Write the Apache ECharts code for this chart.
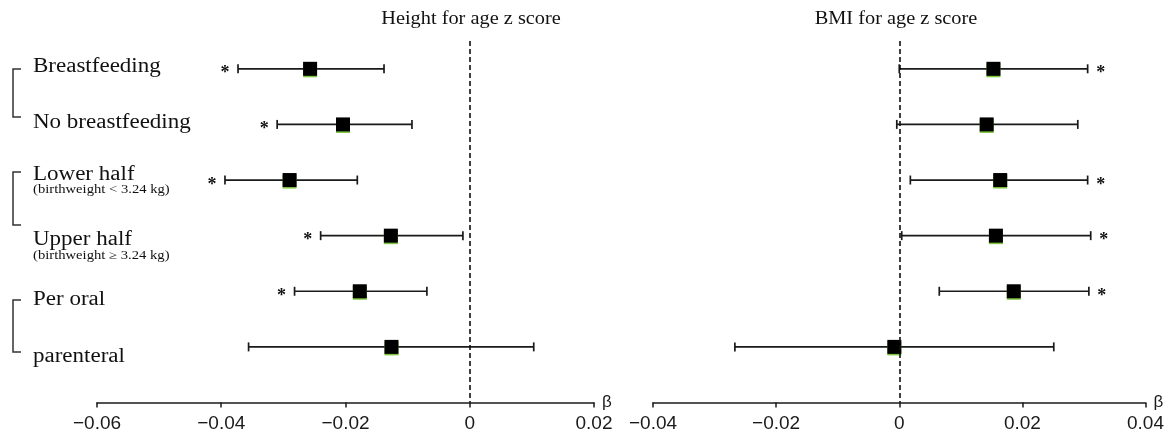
<!DOCTYPE html>
<html><head><meta charset="utf-8">
<script src="https://cdn.jsdelivr.net/npm/echarts@6/dist/echarts.min.js"></script>
<style>html,body{margin:0;padding:0;background:#fff}#c{width:1167px;height:434px}</style>
</head><body><div id="c"></div>
<script>
// ---------- data ----------
const rows = [0, 1, 2, 3, 4, 5];
const labels = ['Breastfeeding', 'No breastfeeding', 'Lower half', 'Upper half', 'Per oral', 'parenteral'];
const subLabels = ['', '', '(birthweight < 3.24 kg)', '(birthweight \u2265 3.24 kg)', '', ''];
const panelTitles = ['Height for age z score', 'BMI for age z score'];

const hazEst = [-0.0257, -0.0204, -0.0290, -0.0127, -0.0177, -0.0126];
const hazLo  = [-0.0373, -0.0310, -0.0394, -0.0240, -0.0282, -0.0356];
const hazHi  = [-0.0138, -0.0093, -0.0181, -0.0011, -0.0069,  0.0103];
const hazSig = [true, true, true, true, true, false];

const bmiEst = [0.0153, 0.0142, 0.0164, 0.0157, 0.0186, -0.0008];
const bmiLo  = [0.0000, -0.0004, 0.0018, 0.0004, 0.0065, -0.0267];
const bmiHi  = [0.0306, 0.0290, 0.0306, 0.0311, 0.0308, 0.0251];
const bmiSig = [true, false, true, true, true, false];

const hazTicks = [-0.06, -0.04, -0.02, 0, 0.02];
const bmiTicks = [-0.04, -0.02, 0, 0.02, 0.04];
const axisName = '\u03B2';

// ---------- chart ----------
const chart = echarts.init(document.getElementById('c'), null, {renderer: 'canvas'});

function fmt(v) {
  if (Math.abs(v) < 1e-9) return '0';
  const s = Math.abs(v).toFixed(2);
  return (v < 0 ? '\u2212' : '') + s;
}

function xAxisFor(gi, ticks) {
  return {
    type: 'value', gridIndex: gi,
    min: ticks[0], max: ticks[ticks.length - 1],
    splitLine: {show: false},
    axisLine: {show: true, onZero: false, lineStyle: {color: '#1a1a1a', width: 1.5}},
    axisTick: {show: true, inside: false, length: 5, lineStyle: {color: '#1a1a1a', width: 1.5}, customValues: ticks},
    axisLabel: {customValues: ticks, formatter: fmt, margin: 12, fontFamily: 'Liberation Sans', fontSize: 19, color: '#1a1a1a'},
    name: axisName, nameLocation: 'end', nameGap: 8,
    nameTextStyle: {fontFamily: 'Liberation Sans', fontSize: 17, color: '#1a1a1a', verticalAlign: 'middle'}
  };
}
function yAxisFor(gi) {
  return {type: 'value', gridIndex: gi, min: -0.5, max: 6, inverse: true, show: false, splitLine: {show: false}};
}

function errRender(params, api) {
  const i = api.value(0);
  const p1 = api.coord([api.value(1), i]);
  const p2 = api.coord([api.value(2), i]);
  const h = 4.5;
  const st = {stroke: '#1a1a1a', lineWidth: 1.7};
  return {type: 'group', children: [
    {type: 'line', shape: {x1: p1[0], y1: p1[1], x2: p2[0], y2: p2[1]}, style: st},
    {type: 'line', shape: {x1: p1[0], y1: p1[1] - h, x2: p1[0], y2: p1[1] + h}, style: st},
    {type: 'line', shape: {x1: p2[0], y1: p2[1] - h, x2: p2[0], y2: p2[1] + h}, style: st}
  ]};
}
function starRender(side) {
  return function (params, api) {
    const p = api.coord([api.value(1), api.value(0)]);
    return {type: 'text', x: p[0] + side * 13, y: p[1] + 5,
      style: {text: '*', font: 'bold 18px "Liberation Serif"', fill: '#111', align: 'center', verticalAlign: 'middle',
              textAlign: 'center', textVerticalAlign: 'middle'}};
  };
}

function panelSeries(idx, est, lo, hi, sig, side) {
  return [
    {type: 'custom', xAxisIndex: idx, yAxisIndex: idx, renderItem: errRender,
     encode: {x: [1, 2], y: 0}, data: rows.map(i => [i, lo[i], hi[i]]), z: 2, silent: true},
    {type: 'custom', xAxisIndex: idx, yAxisIndex: idx, renderItem: starRender(side),
     encode: {x: 1, y: 0}, data: rows.filter(i => sig[i]).map(i => [i, side < 0 ? lo[i] : hi[i]]), z: 2, silent: true},
    {type: 'scatter', xAxisIndex: idx, yAxisIndex: idx, symbol: 'rect', symbolSize: 14,
     data: rows.map(i => [est[i], i]), z: 4, silent: true,
     itemStyle: {color: '#000', opacity: 1, shadowColor: 'rgba(110,190,40,0.9)', shadowOffsetY: 1.5, shadowBlur: 0},
     markLine: {silent: true, symbol: 'none', label: {show: false},
       lineStyle: {type: [5, 3], color: '#111', width: 1.6}, data: [{xAxis: 0}]}}
  ];
}

function textEl(text, x, y, size, scaleX, align) {
  return {type: 'text', x: x, y: y, scaleX: scaleX,
    style: {text: text, font: size + 'px "Liberation Serif"', fill: '#111',
      align: align, verticalAlign: 'middle', textAlign: align, textVerticalAlign: 'middle'}};
}
function bracket(y1, y2) {
  return {type: 'polyline', shape: {points: [[21, y1], [13, y1], [13, y2], [21, y2]]},
    style: {stroke: '#333', lineWidth: 1.5, fill: null}};
}

const labelY = [67, 123, 175, 240, 300, 357];
const subY = [0, 0, 190, 256, 0, 0];
const graphics = [];
labels.forEach((t, i) => graphics.push(textEl(t, 33, labelY[i], 20, 1.15, 'left')));
subLabels.forEach((t, i) => { if (t) graphics.push(textEl(t, 33, subY[i], 12, 1.22, 'left')); });
graphics.push(textEl(panelTitles[0], 471, 19, 18, 1.13, 'center'));
graphics.push(textEl(panelTitles[1], 896, 19, 18, 1.13, 'center'));
graphics.push(bracket(69, 117), bracket(172, 225), bracket(300, 352));

chart.setOption({
  animation: false,
  backgroundColor: '#fff',
  grid: [
    {left: 97, width: 497, top: 41, height: 361.5},
    {left: 653, width: 493, top: 41, height: 361.5}
  ],
  xAxis: [xAxisFor(0, hazTicks), xAxisFor(1, bmiTicks)],
  yAxis: [yAxisFor(0), yAxisFor(1)],
  series: [].concat(
    panelSeries(0, hazEst, hazLo, hazHi, hazSig, -1),
    panelSeries(1, bmiEst, bmiLo, bmiHi, bmiSig, 1)
  ),
  graphic: graphics
});
</script>
</body></html>
